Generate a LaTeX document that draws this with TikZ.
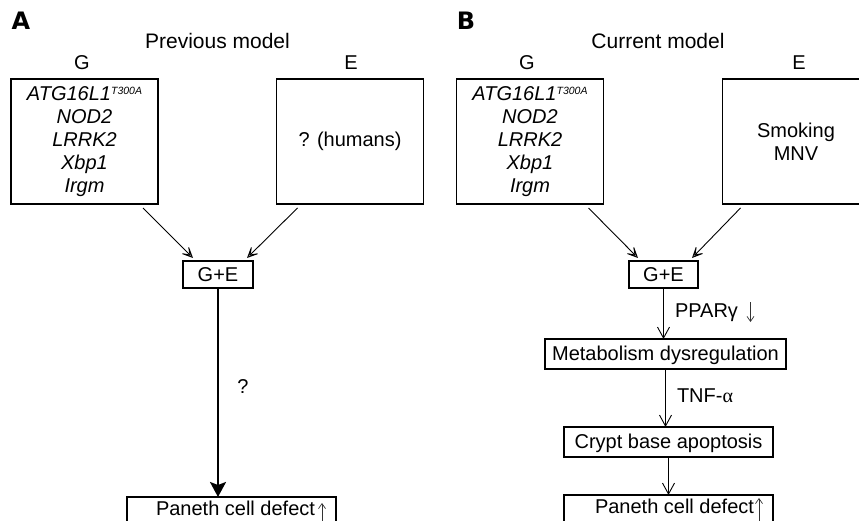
\documentclass[tikz,border=0pt]{standalone}
\usepackage{fontspec}
\setmainfont{Liberation Sans}
\newfontfamily\alphafont{Liberation Serif}
\newfontfamily\panelfont{DejaVu Sans}
\usetikzlibrary{arrows.meta,calc}
\newcommand{\fsz}[1]{\fontsize{#1}{#1}\selectfont}
\newcommand{\genelist}{ATG16L1\raisebox{6.5pt}{\fsz{10.5}T300A}\\NOD2\\LRRK2\\Xbp1\\Irgm}
\begin{document}
\begin{tikzpicture}[x=1pt,y=-1pt,
  every node/.style={inner sep=0pt, outer sep=0pt},
  panel/.style={font=\panelfont\fsz{24}\bfseries, anchor=base},
  title/.style={font=\fsz{21}, anchor=base},
  lbl/.style={font=\fsz{20}, anchor=base},
  bigbox/.style={draw, line width=1.8pt, minimum width=147pt, minimum height=125pt, align=center, font=\fontsize{20}{22.8}\selectfont},
  genebox/.style={bigbox, font=\fontsize{20}{22.8}\selectfont\itshape},
  box/.style={draw, line width=1.8pt, anchor=base, font=\fsz{20}},
  diag/.style={line width=0.9pt, -{Stealth[open, length=15pt, width=14pt, inset=10pt]}},
  vert/.style={line width=0.9pt, -{Straight Barb[length=11pt, width=12pt]}},
  bigarrow/.style={line width=2.2pt, -{Stealth[length=15pt, width=16pt, inset=3pt]}},
  smallarr/.style={line width=0.7pt, black!80, -{Straight Barb[length=5pt, width=7pt]}},
]
\useasboundingbox (0,0) rectangle (859,521);
\clip (0,0) rectangle (859,521);

% panel letters and titles
\node[panel] (pA) at (21,30) {A};
\node[panel] (pB) at (466,30) {B};
\node[title] (tA) at (217.5,48.5) {Previous model};
\node[title] (tB) at (658,48.5) {Current model};
\node[lbl] (gA) at (82,70) {G};
\node[lbl] (eA) at (351,70) {E};
\node[lbl] (gB) at (527,70) {G};
\node[lbl] (eB) at (799,70) {E};

% top boxes
\node[genebox] (ga) at (84.5,141.5) {\genelist};
\node[bigbox] (ea) at (350,141.5) {? (humans)};
\node[genebox] (gb) at (530,141.5) {\genelist};
\node[bigbox] (eb) at (796,141.5) {Smoking\\MNV};

% G+E boxes
\node[box, text height=20pt, text depth=7pt, minimum width=70pt] (gea) at (218,281) {G+E};
\node[box, text height=20pt, text depth=7pt, minimum width=69pt] (geb) at (663.5,281) {G+E};

% panel B chain
\node[box, text height=21pt, text depth=9pt, minimum width=241pt] (met) at (665.5,360) {Metabolism dysregulation};
\node[box, text height=21pt, text depth=9pt, minimum width=209pt] (cry) at (668.5,448) {Crypt base apoptosis};

% Paneth boxes
\node[box, text height=18pt, text depth=10pt, minimum width=209pt] (pna) at (231.5,515) {\hspace*{8pt}Paneth cell defect};
\node[box, text height=18pt, text depth=10pt, minimum width=209pt] (pnb) at (668.5,513) {\hspace*{12pt}Paneth cell defect};

% labels
\node[lbl] (q) at (243,393) {?};
\node[lbl, anchor=base west] (ppar) at (675,317) {PPARγ};
\node[lbl, anchor=base west] (tnf) at (677,402) {TNF-{\alphafont α}};

% connectors
\draw[diag] ($(ga.south east)+(-15,4)$) -- ($(gea.north west)+(10,-3)$);
\draw[diag] ($(ea.south west)+(21,4)$) -- ($(gea.north east)+(-6,-3)$);
\draw[diag] ($(gb.south east)+(-15,4)$) -- ($(geb.north west)+(9,-3)$);
\draw[diag] ($(eb.south west)+(18,4)$) -- ($(geb.north east)+(-6,-3)$);

\draw[bigarrow] (gea.south) -- (gea.south |- pna.north);
\draw[vert] (geb.south) -- (geb.south |- met.north);
\draw[vert] (met.south) -- (met.south |- cry.north);
\draw[vert] (cry.south) -- (cry.south |- pnb.north);

% small up/down arrows
\draw[smallarr] ($(pna.south east)+(-14,0)$) -- ($(pna.north east)+(-14,6)$);
\draw[smallarr] ($(pnb.south east)+(-14,0)$) -- ($(pnb.north east)+(-14,3)$);
\draw[smallarr] ($(ppar.base east)+(12.5,-15)$) -- ($(ppar.base east)+(12.5,5)$);
\end{tikzpicture}
\end{document}
